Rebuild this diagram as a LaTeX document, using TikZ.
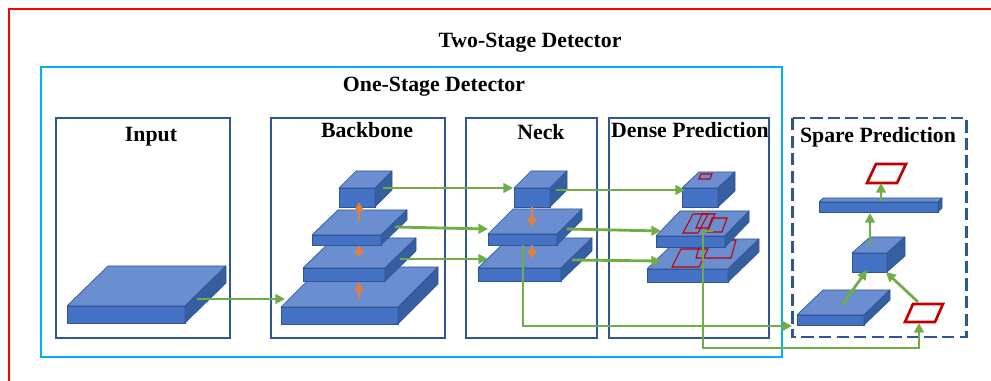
\documentclass[tikz,border=0pt]{standalone}
\usepackage{fontspec}
\setmainfont{Liberation Serif}
\usetikzlibrary{arrows.meta}

\definecolor{frontblue}{HTML}{4472C4}
\definecolor{topblue}{HTML}{6A8ECF}
\definecolor{sideblue}{HTML}{365F9F}
\definecolor{edgeblue}{HTML}{2F5597}
\definecolor{skyblue}{HTML}{00B0F0}
\definecolor{flowgreen}{HTML}{70AD47}
\definecolor{upsample}{HTML}{ED7D31}
\definecolor{anchorred}{HTML}{C00000}

% name, x1, y1, x2, y2 (front face), dx, dy (depth)
\newcommand{\cuboid}[7]{%
  \node[front, minimum width={(#4-#2)*0.02cm}, minimum height={(#5-#3)*0.02cm}] (#1) at ({(#2+#4)/2},{(#3+#5)/2}) {};
  \filldraw[topface] (#1.north west) -- ++(#6,-#7) -- ([shift={(#6,-#7)}]#1.north east) -- (#1.north east) -- cycle;
  \filldraw[sideface] (#1.north east) -- ++(#6,-#7) -- ([shift={(#6,-#7)}]#1.south east) -- (#1.south east) -- cycle;
}
% style, name, x, y (bottom left), w, h, slant
\newcommand{\slantbox}[7]{%
  \draw[#1] (#3,#4) -- ++(#5,0) -- ++(#7,-#6) -- ++(-#5,0) -- cycle;
  \coordinate (#2) at ({#3+#5/2+#7/2},{#4-#6/2});
}

\begin{document}
\begin{tikzpicture}[x=0.02cm, y=-0.02cm,
    front/.style={draw=edgeblue, fill=frontblue, line width=0.4pt, inner sep=0pt, outer sep=0pt},
    topface/.style={draw=edgeblue, fill=topblue, line width=0.4pt, line join=round},
    sideface/.style={draw=edgeblue, fill=sideblue, line width=0.4pt, line join=round},
    stage/.style={draw=edgeblue, line width=1.1pt},
    title/.style={anchor=base, font=\fontsize{12.4}{14}\selectfont\bfseries},
    flow/.style={draw=flowgreen, line width=1.6pt, -{Triangle[length=5.5pt,width=5.5pt]}},
    upflow/.style={draw=upsample, line width=1.4pt, -{Triangle[length=5pt,width=5pt]}},
    box/.style={draw=anchorred, line width=0.6pt},
    bigbox/.style={draw=anchorred, line width=1.5pt}]

    \useasboundingbox (0,0) rectangle (991,381);

    \draw[red, line width=1.4pt] (9,381) -- (9,9) -- (991,9);
    \draw[skyblue, line width=1.4pt] (41,67) rectangle (782,357);

    \draw[stage] (56,118) rectangle (230,338);
    \draw[stage] (271,118) rectangle (445,338);
    \draw[stage] (466,118) rectangle (597,338);
    \draw[stage] (609,118) rectangle (769,338);
    \draw[stage, line width=1.7pt, dash pattern=on 7pt off 3pt] (792,118) rectangle (966,337);

    \node[title] (twostage) at (530,48) {Two-Stage Detector};
    \node[title] (onestage) at (434,92) {One-Stage Detector};
    \node[title] (input) at (151,142) {Input};
    \node[title] (backbone) at (367,138) {Backbone};
    \node[title] (neck) at (541,140) {Neck};
    \node[title] (dense) at (690,138) {Dense Prediction};
    \node[title] (spare) at (878,143) {Spare Prediction};

    % input and backbone
    \cuboid{in}{67}{306}{185}{323}{41}{40}
    \cuboid{b1}{281}{307}{398}{324}{40}{40}
    \cuboid{b2}{303}{268}{385}{281}{31}{30}
    \cuboid{b3}{312}{235}{381}{245}{26}{25}
    \cuboid{b4}{339}{188}{375}{207}{17}{17}

    % neck
    \cuboid{n3}{478}{268}{561}{281}{31}{30}
    \cuboid{n2}{488}{234}{557}{245}{25}{25}
    \cuboid{n1}{514}{188}{550}{207}{17}{17}

    % dense prediction
    \cuboid{d3}{647}{269}{728}{282}{31}{30}
    \slantbox{box}{p4}{672}{267}{27}{18}{9}
    \slantbox{box}{p5}{696}{258}{35}{18}{5}
    \cuboid{d2}{656}{236}{725}{247}{24}{25}
    \slantbox{box}{p1}{683}{233}{15}{19}{10}
    \slantbox{box}{p2}{696}{228}{13}{14}{6}
    \slantbox{box}{p3}{707}{232}{15}{14}{5}
    \cuboid{d1}{682}{188}{718}{207}{17}{16}
    \slantbox{box}{p0}{699}{179}{11}{5}{2}

    % spare prediction
    \cuboid{s1}{797}{315}{864}{325}{26}{25}
    \cuboid{s2}{852}{253}{887}{272}{18}{16}
    \cuboid{s3}{819}{202}{938}{212}{4}{4}
    \slantbox{bigbox}{r1}{867}{183}{30}{19}{9}
    \slantbox{bigbox}{r2}{905}{322}{30}{18}{8}

    \coordinate (in-r) at (197,299);
    \coordinate (b1-l) at (285,299);
    \coordinate (b4-r) at (383,188);
    \coordinate (n1-l) at (513,188);
    \coordinate (b3-r) at (395,227);
    \coordinate (n2-l) at (488,229);
    \coordinate (b2-r) at (400,259);
    \coordinate (n3-l) at (488,259);
    \coordinate (n1-r) at (556,190);
    \coordinate (d1-l) at (685,190);
    \coordinate (n2-r) at (567,229);
    \coordinate (d2-l) at (661,231);
    \coordinate (n3-r) at (572,260);
    \coordinate (d3-l) at (661,261);
    \coordinate (n2-b) at (523,245);
    \coordinate (s1-l) at (792,326);
    \coordinate (d2-c) at (713,231);
    \coordinate (r2-b) at (919,323);
    \coordinate (s1-t) at (842,305);
    \coordinate (s2-l) at (867,270);
    \coordinate (r2-t) at (918,302);
    \coordinate (s2-r) at (886,272);
    \coordinate (s2-t) at (870,245);
    \coordinate (s3-b) at (870,213);
    \coordinate (s3-t) at (881,201);
    \coordinate (r1-b) at (881,183);

    \draw[flow] (in-r) -- (b1-l);
    \draw[flow] (b4-r) -- (n1-l);
    \draw[flow] (b3-r) -- (n2-l);
    \draw[flow] (b2-r) -- (n3-l);
    \draw[flow] (n1-r) -- (d1-l);
    \draw[flow] (n2-r) -- (d2-l);
    \draw[flow] (n3-r) -- (d3-l);
    \draw[flow] (n2-b) |- (s1-l);
    \draw[flow] (d2-c) -- ++(-10,0) -- ++(0,117) -| (r2-b);
    \draw[flow] (s1-t) -- (s2-l);
    \draw[flow] (r2-t) -- (s2-r);
    \draw[flow] (s2-t) -- (s3-b);
    \draw[flow] (s3-t) -- (r1-b);

    \coordinate (b1-t) at (359,299);
    \coordinate (b2-f) at (359,282);
    \coordinate (b2-t) at (359,257);
    \coordinate (b3-f) at (359,245);
    \coordinate (b3-t) at (359,221);
    \coordinate (b4-f) at (359,202);
    \coordinate (n1-f) at (532,207);
    \coordinate (n2-t) at (532,227);
    \coordinate (n2-f) at (532,245);
    \coordinate (n3-t) at (532,259);

    \draw[upflow] (b1-t) -- (b2-f);
    \draw[upflow] (b2-t) -- (b3-f);
    \draw[upflow] (b3-t) -- (b4-f);
    \draw[upflow] (n1-f) -- (n2-t);
    \draw[upflow] (n2-f) -- (n3-t);

\end{tikzpicture}
\end{document}
